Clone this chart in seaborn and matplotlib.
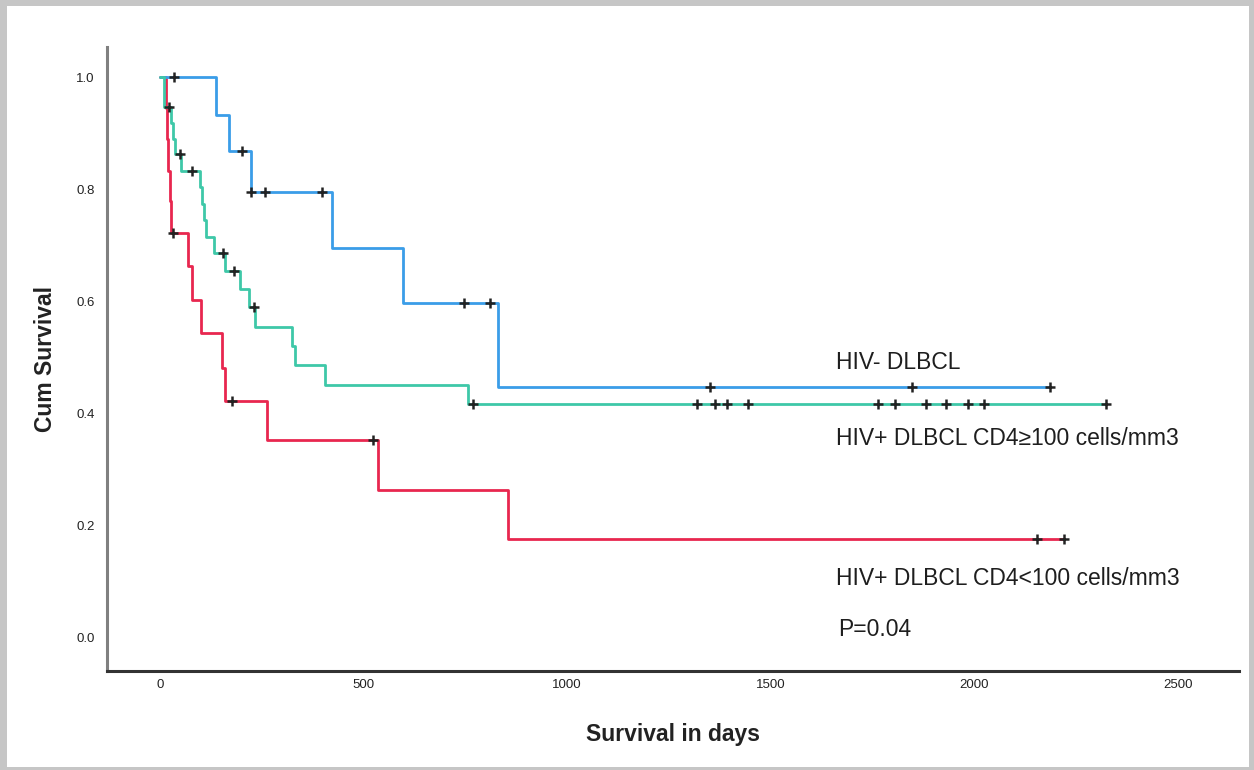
import numpy as np
import pandas as pd
import matplotlib
matplotlib.use("Agg")
import matplotlib.pyplot as plt
import seaborn as sns
from matplotlib.patches import Rectangle

# ---- data ----
groups = ["HIV- DLBCL", "HIV+ DLBCL CD4\u2265100 cells/mm3", "HIV+ DLBCL CD4<100 cells/mm3"]

# event (drop) days and survival level after each drop
neg_days = [137, 169, 223, 422, 596, 830]
neg_surv = [0.933, 0.867, 0.794, 0.695, 0.596, 0.447]
neg_cens = [34, 201, 223, 258, 397, 746, 810, 1350, 1848, 2186]

hi_days = [10, 27, 33, 38, 52, 98, 103, 108, 113, 133, 160, 196, 218, 233, 325, 331, 405, 756]
hi_surv = [0.946, 0.918, 0.890, 0.862, 0.833, 0.804, 0.774, 0.744, 0.714,
           0.685, 0.654, 0.621, 0.589, 0.554, 0.520, 0.485, 0.450, 0.416]
hi_cens = [22, 49, 79, 155, 182, 231, 768, 1318, 1362, 1392, 1445, 1764, 1806,
           1882, 1931, 1985, 2024, 2324]

lo_days = [15, 18, 21, 24, 27, 69, 78, 100, 152, 159, 263, 535, 854]
lo_surv = [0.944, 0.889, 0.833, 0.778, 0.722, 0.662, 0.602, 0.542, 0.481, 0.421, 0.351, 0.263, 0.175]
lo_cens = [31, 176, 523, 2155, 2221]

colors = ["#3a9de8", "#3ec8a8", "#e8274f"]
draw_order = [2, 0, 1]  # red underneath, teal on top at the shared start

x_ticks = [0, 500, 1000, 1500, 2000, 2500]
y_ticks = [0.0, 0.2, 0.4, 0.6, 0.8, 1.0]
x_tick_labels = ["0", "500", "1000", "1500", "2000", "2500"]
y_tick_labels = ["0.0", "0.2", "0.4", "0.6", "0.8", "1.0"]

label_text_y = [0.491, 0.355, 0.104]
p_text = "P=0.04"

# ---- build tables ----
def step_table(days, surv, cens, name):
    t = [0] + list(days) + [max(max(cens), max(days))]
    s = [1.0] + list(surv) + [surv[-1]]
    return pd.DataFrame({"day": t, "surv": s, "group": name})

def cens_table(days, surv, cens, name):
    d = np.array(days)
    s = np.array([1.0] + list(surv))
    idx = np.searchsorted(d, np.array(cens), side="right")
    return pd.DataFrame({"day": cens, "surv": s[idx], "group": name})

all_sets = [(neg_days, neg_surv, neg_cens), (hi_days, hi_surv, hi_cens), (lo_days, lo_surv, lo_cens)]
lines = pd.concat([step_table(*a, g) for a, g in zip(all_sets, groups)], ignore_index=True)
cens = pd.concat([cens_table(*a, g) for a, g in zip(all_sets, groups)], ignore_index=True)

sns.set_theme(style="white")
plt.rcParams["font.family"] = ["Liberation Sans", "DejaVu Sans"]

W, H = 1254, 770
fig = plt.figure(figsize=(W / 100, H / 100), dpi=100, facecolor="#c6c6c6")
bg = Rectangle((7 / W, 3 / H), (1249 - 7) / W, (764 - 3) / H,
               transform=fig.transFigure, facecolor="white", edgecolor="none")
bg.set_zorder(-100)
fig.patches.append(bg)
ax = fig.add_axes([107 / W, 1 - 671 / H, (1239 - 107) / W, (671 - 47) / H])
ax.set_zorder(1)
ax.set_facecolor("white")

for i in draw_order:
    g, c = groups[i], colors[i]
    sub = lines[lines["group"] == g]
    sns.lineplot(data=sub, x="day", y="surv", ax=ax, color=c, linewidth=2.0,
                 drawstyle="steps-post", estimator=None, sort=False, legend=False)
for g in groups:
    sc = cens[cens["group"] == g]
    ax.plot(sc["day"], sc["surv"], linestyle="none", marker="+", markersize=7.5,
            markeredgewidth=1.8, color="#222222", zorder=5)

ax.set_xlim(-130, 2650)
ax.set_ylim(-0.0607, 1.0536)
ax.set_xticks(x_ticks)
ax.set_xticklabels(x_tick_labels)
ax.set_yticks(y_ticks)
ax.set_yticklabels(y_tick_labels)
ax.tick_params(axis="both", length=0, labelsize=9.5, labelcolor="#222222")
ax.tick_params(axis="y", pad=9)
ax.tick_params(axis="x", pad=6)

for side in ["top", "right"]:
    ax.spines[side].set_visible(False)
ax.spines["left"].set_color("#808080")
ax.spines["left"].set_linewidth(2.2)
ax.spines["bottom"].set_color("#333333")
ax.spines["bottom"].set_linewidth(2.2)

ax.set_xlabel("Survival in days", fontsize=16.5, fontweight="bold", color="#222222")
ax.set_ylabel("Cum Survival", fontsize=16.5, fontweight="bold", color="#222222")
ax.xaxis.set_label_coords(0.5, -0.083)
ax.yaxis.set_label_coords(-0.044, 0.5)

for g, yv in zip(groups, label_text_y):
    ax.text(1660, yv, g, fontsize=16.5, color="#1e1e1e", ha="left", va="center")
ax.text(1665, 0.014, p_text, fontsize=16.5, color="#1e1e1e", ha="left", va="center")

fig.savefig("out.png", dpi=100, facecolor=fig.get_facecolor())
